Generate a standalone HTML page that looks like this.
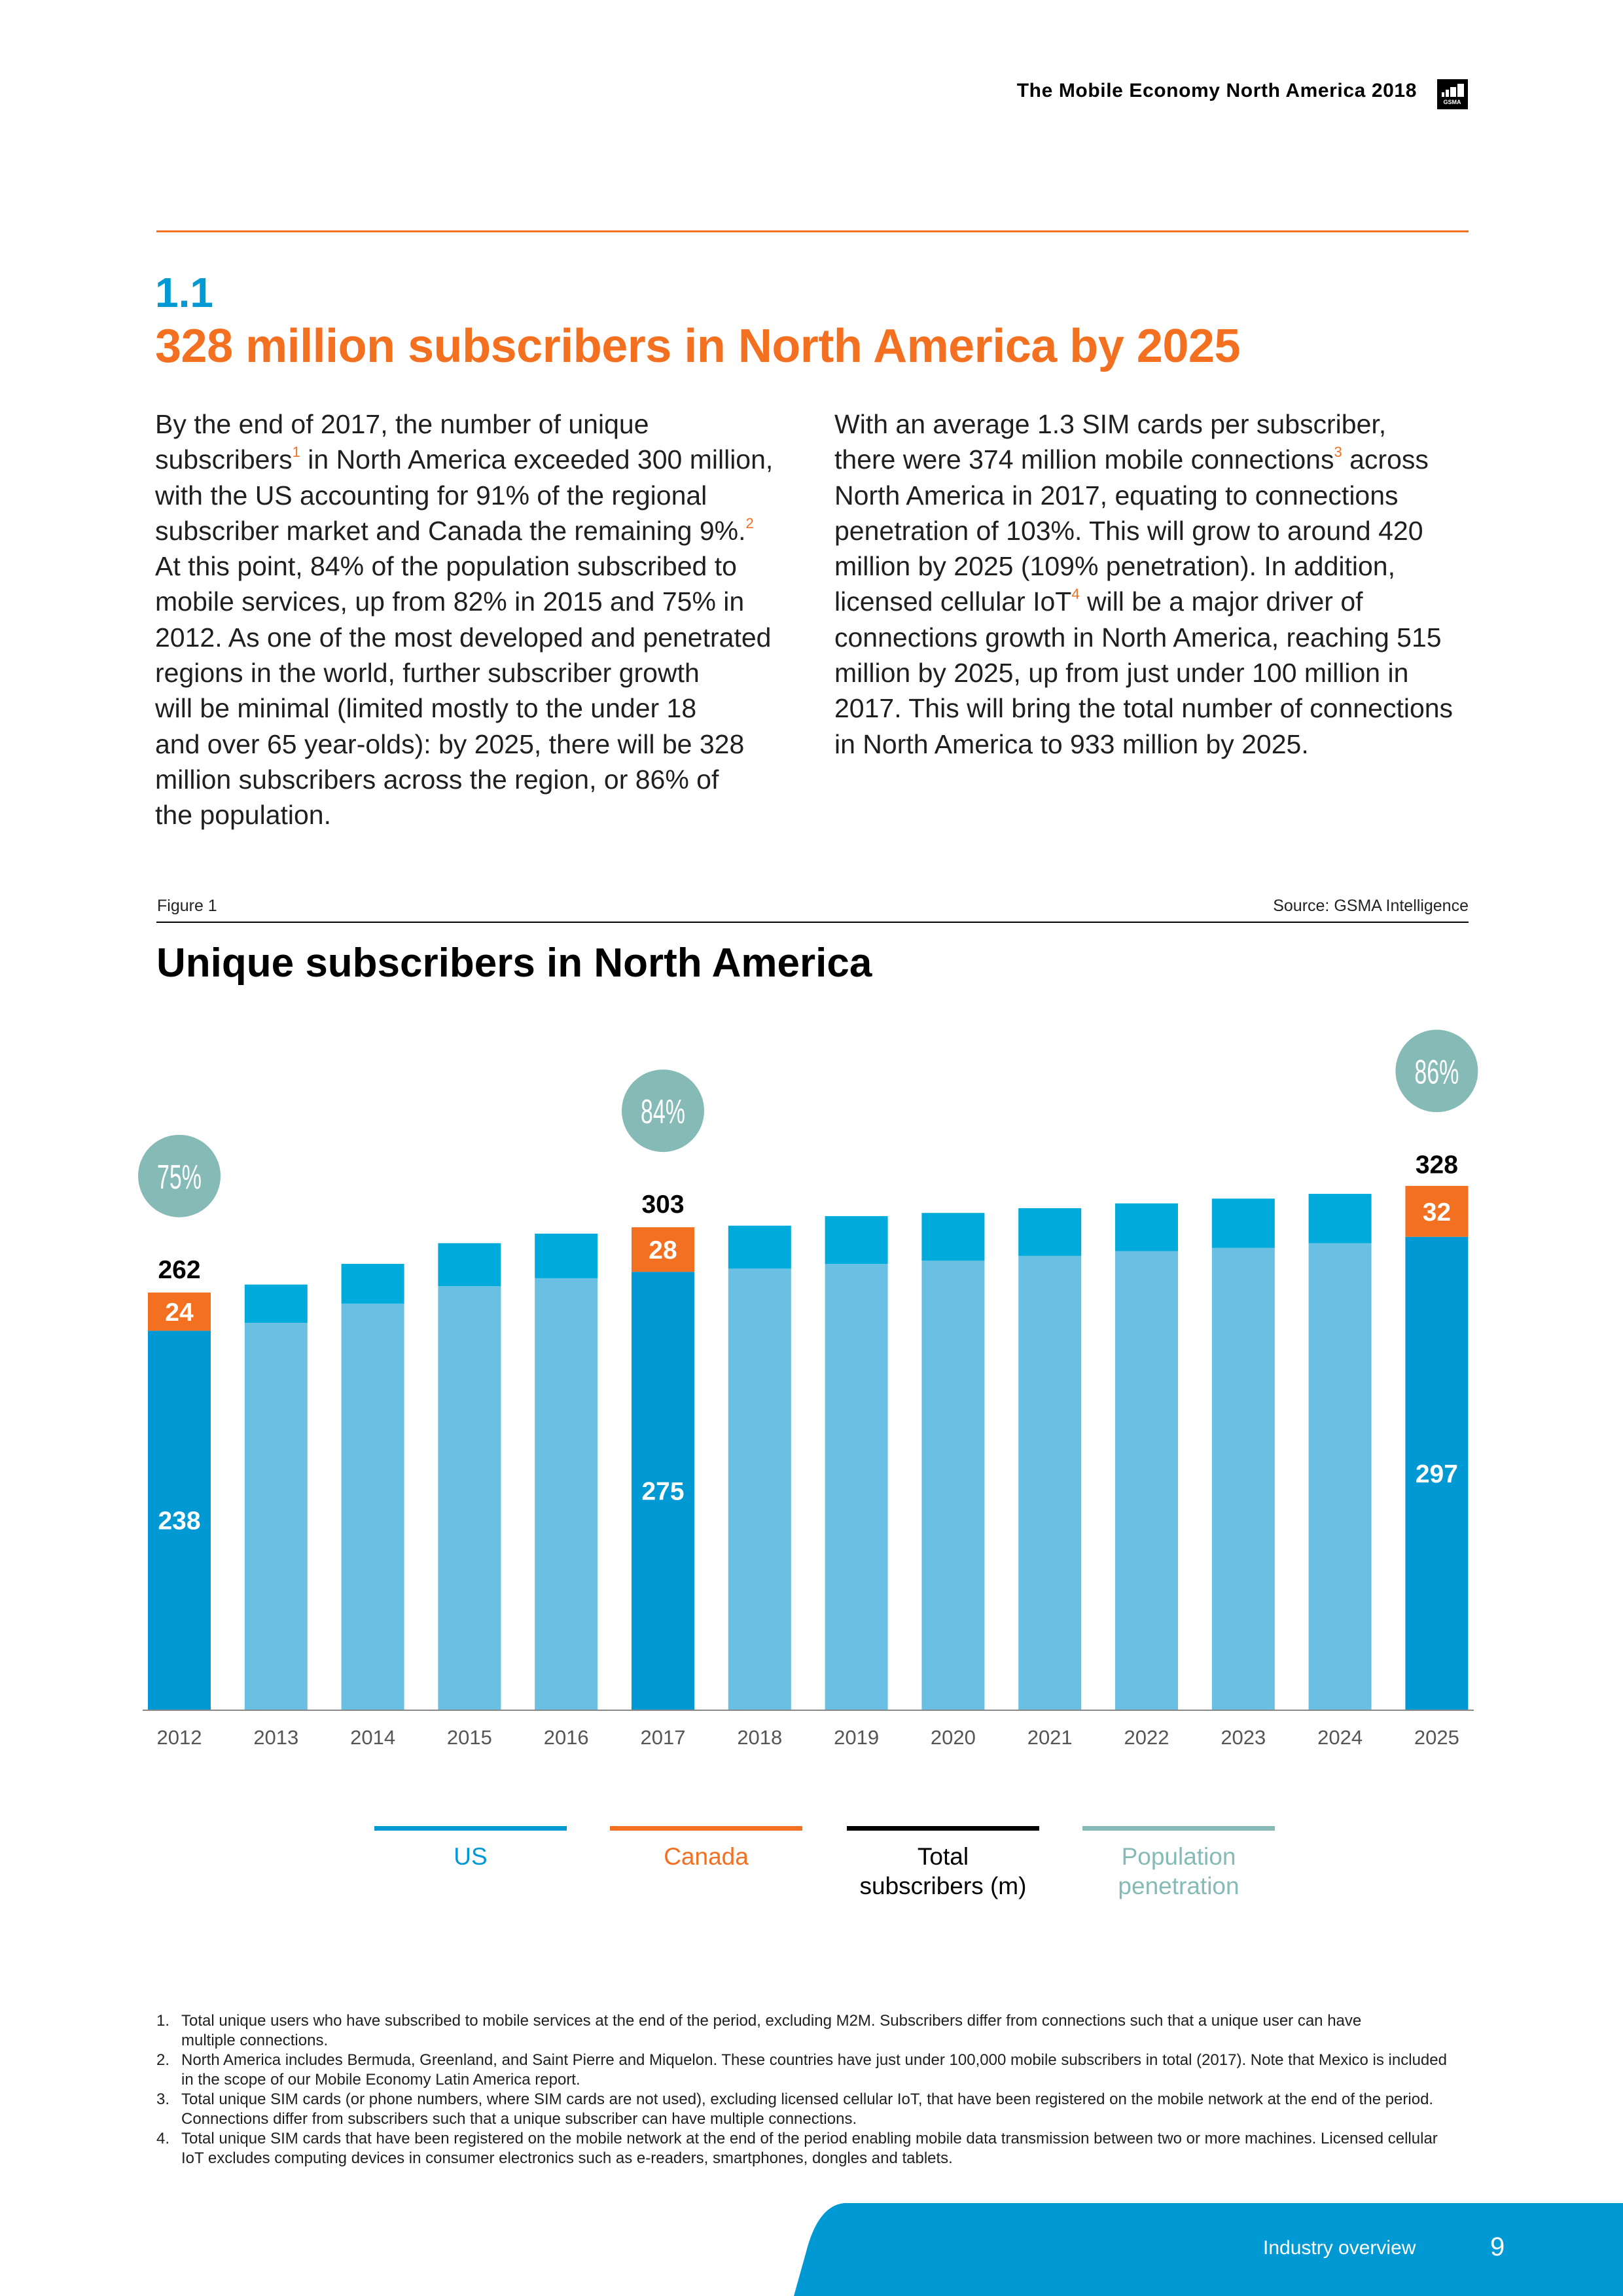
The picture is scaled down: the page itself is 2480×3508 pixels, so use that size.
<!DOCTYPE html>
<html><head><meta charset="utf-8">
<style>
html,body{margin:0;padding:0;}
body{width:2480px;height:3508px;position:relative;background:#fff;font-family:"Liberation Sans",sans-serif;color:#1a1a1a;overflow:hidden;}
.abs{position:absolute;}
.body{font-size:41px;line-height:54.3px;color:#1f1f1f;white-space:nowrap;}
.sup{color:#f37021;font-size:22px;vertical-align:18px;line-height:0;}
.fn{font-size:24px;line-height:30px;color:#1f1f1f;}
.fn div{position:relative;padding-left:38px;}
.fn span.n{position:absolute;left:0;}
</style></head>
<body>
<div class="abs" style="right:315px;top:122px;font-size:30px;font-weight:bold;color:#000;letter-spacing:0.6px;">The Mobile Economy North America 2018</div>
<div class="abs" style="left:2196px;top:121px;width:47px;height:46px;background:#000;">
<svg width="47" height="46"><rect x="7" y="20" width="4" height="7" fill="#fff"/><rect x="13" y="16" width="5" height="11" fill="#fff"/><rect x="20" y="12" width="9" height="15" fill="#fff"/><rect x="31" y="7" width="10" height="20" fill="#fff"/><text x="23" y="38" font-size="9" fill="#fff" text-anchor="middle" font-family="Liberation Sans" font-weight="bold">GSMA</text></svg></div>
<div class="abs" style="left:239px;top:352px;width:2005px;height:3px;background:#f37021;"></div>
<div class="abs" style="left:237px;top:410px;font-size:64px;font-weight:bold;color:#0099d3;">1.1</div>
<div class="abs" style="left:237px;top:488px;font-size:72px;font-weight:bold;color:#f37021;letter-spacing:-0.5px;">328 million subscribers in North America by 2025</div>

<div class="abs body" style="left:237px;top:621px;">
By the end of 2017, the number of unique<br>
subscribers<span class="sup">1</span> in North America exceeded 300 million,<br>
with the US accounting for 91% of the regional<br>
subscriber market and Canada the remaining 9%.<span class="sup">2</span><br>
At this point, 84% of the population subscribed to<br>
mobile services, up from 82% in 2015 and 75% in<br>
2012. As one of the most developed and penetrated<br>
regions in the world, further subscriber growth<br>
will be minimal (limited mostly to the under 18<br>
and over 65 year-olds): by 2025, there will be 328<br>
million subscribers across the region, or 86% of<br>
the population.</div>
<div class="abs body" style="left:1275px;top:621px;">
With an average 1.3 SIM cards per subscriber,<br>
there were 374 million mobile connections<span class="sup">3</span> across<br>
North America in 2017, equating to connections<br>
penetration of 103%. This will grow to around 420<br>
million by 2025 (109% penetration). In addition,<br>
licensed cellular IoT<span class="sup">4</span> will be a major driver of<br>
connections growth in North America, reaching 515<br>
million by 2025, up from just under 100 million in<br>
2017. This will bring the total number of connections<br>
in North America to 933 million by 2025.</div>

<div class="abs" style="left:240px;top:1370px;font-size:25px;color:#222;">Figure 1</div>
<div class="abs" style="right:236px;top:1370px;font-size:25px;color:#222;">Source: GSMA Intelligence</div>
<div class="abs" style="left:239px;top:1408px;width:2005px;height:2px;background:#000;"></div>
<div class="abs" style="left:239px;top:1436px;font-size:62px;font-weight:bold;color:#000;">Unique subscribers in North America</div>

<svg class="abs" id="chart" style="left:0;top:0" width="2480" height="2700"></svg>

<div class="abs" style="left:0;top:0;">
 <div class="abs" style="left:572px;top:2790px;width:294px;">
  <div style="height:7px;background:#0099d3"></div><div style="text-align:center;font-size:37px;color:#0099d3;margin-top:17px;line-height:45px;">US</div></div>
 <div class="abs" style="left:932px;top:2790px;width:294px;">
  <div style="height:7px;background:#f37021"></div><div style="text-align:center;font-size:37px;color:#f37021;margin-top:17px;line-height:45px;">Canada</div></div>
 <div class="abs" style="left:1294px;top:2790px;width:294px;">
  <div style="height:7px;background:#000"></div><div style="text-align:center;font-size:37px;color:#000;margin-top:17px;line-height:45px;">Total<br>subscribers (m)</div></div>
 <div class="abs" style="left:1654px;top:2790px;width:294px;">
  <div style="height:7px;background:#86bab6"></div><div style="text-align:center;font-size:37px;color:#86bab6;margin-top:17px;line-height:45px;">Population<br>penetration</div></div>
</div>

<div class="abs fn" style="left:239px;top:3073px;width:2040px;">
<div><span class="n">1.</span>Total unique users who have subscribed to mobile services at the end of the period, excluding M2M. Subscribers differ from connections such that a unique user can have<br>multiple connections.</div>
<div><span class="n">2.</span>North America includes Bermuda, Greenland, and Saint Pierre and Miquelon. These countries have just under 100,000 mobile subscribers in total (2017). Note that Mexico is included<br>in the scope of our Mobile Economy Latin America report.</div>
<div><span class="n">3.</span>Total unique SIM cards (or phone numbers, where SIM cards are not used), excluding licensed cellular IoT, that have been registered on the mobile network at the end of the period.<br>Connections differ from subscribers such that a unique subscriber can have multiple connections.</div>
<div><span class="n">4.</span>Total unique SIM cards that have been registered on the mobile network at the end of the period enabling mobile data transmission between two or more machines. Licensed cellular<br>IoT excludes computing devices in consumer electronics such as e-readers, smartphones, dongles and tablets.</div>
</div>

<svg class="abs" style="left:0;top:3300px" width="2480" height="208">
 <path d="M1213 208 L1232 140 Q1250 70 1290 66 L2480 66 L2480 208 Z" fill="#0099d3"/>
 <text x="1930" y="144" font-size="30" fill="#fff" font-family="Liberation Sans">Industry overview</text>
 <text x="2277" y="146" font-size="40" fill="#fff" font-family="Liberation Sans">9</text>
</svg>

<script>
const years=["2012","2013","2014","2015","2016","2017","2018","2019","2020","2021","2022","2023","2024","2025"];
const usValues=[238,243,255,266,271,275,277,280,282,285,288,290,293,297];
const canadaValues=[24,24,25,27,28,28,27,30,30,30,30,31,31,32];
const totalValues=[262,267,280,293,299,303,304,310,312,315,318,321,324,328];
const highlighted=["2012","2017","2025"];
const penetrationYears=["2012","2017","2025"];
const penetrationLabels=["75%","84%","86%"];
const penetrationValues=[75,84,86];

const svg=document.getElementById('chart');
const NS='http://www.w3.org/2000/svg';
const baseY=2612, pxPerUnit=2.432, x0=274, step=147.8, bw=96;
function xPos(i){return x0+i*step;}
function yPos(v){return baseY-v*pxPerUnit;}
function mk(tag,attrs){const e=document.createElementNS(NS,tag);for(const k in attrs)e.setAttribute(k,attrs[k]);svg.appendChild(e);return e;}

const axis=mk('line',{x1:218,x2:2252,y1:baseY+1,y2:baseY+1,stroke:'#888','stroke-width':2});



years.forEach((yr,i)=>{
  const hl=highlighted.includes(yr);
  const cx=xPos(i);
  const us=mk('rect',{x:cx-bw/2,y:yPos(usValues[i]),width:bw,height:usValues[i]*pxPerUnit,fill:hl?'#0099d3':'#69c0e3'});
  
  
  const ca=mk('rect',{x:cx-bw/2,y:yPos(usValues[i]+canadaValues[i]),width:bw,height:canadaValues[i]*pxPerUnit,fill:hl?'#f37021':'#00abdb'});
  
  
  const t=mk('text',{x:cx,y:2665,'text-anchor':'middle','font-size':31,fill:'#555','font-family':'Liberation Sans'});
  t.textContent=yr;
  
  
  if(hl){
    const tot=mk('text',{x:cx,y:yPos(totalValues[i])-22,'text-anchor':'middle','font-size':39,'font-weight':'bold',fill:'#000','font-family':'Liberation Sans'});
    tot.textContent=totalValues[i];
    
    
    const cl=mk('text',{x:cx,y:yPos(usValues[i]+canadaValues[i]/2)+14,'text-anchor':'middle','font-size':39,'font-weight':'bold',fill:'#fff','font-family':'Liberation Sans'});
    cl.textContent=canadaValues[i];
    
    
    const ul=mk('text',{x:cx,y:yPos(usValues[i]/2)+14,'text-anchor':'middle','font-size':39,'font-weight':'bold',fill:'#fff','font-family':'Liberation Sans'});
    ul.textContent=usValues[i];
    
    
  }
});

penetrationYears.forEach((yr,j)=>{
  const i=years.indexOf(yr);
  const cx=xPos(i);
  const cy=yPos(totalValues[i])-178;
  const c=mk('circle',{cx:cx,cy:cy,r:63,fill:'#86bab6'});
  
  
  const t=mk('text',{x:cx,y:cy+19,'text-anchor':'middle','font-size':52,fill:'#fff','font-family':'Liberation Sans',textLength:68,lengthAdjust:'spacingAndGlyphs'});
  t.textContent=penetrationLabels[j];
  
  
});
</script>
</body></html>
